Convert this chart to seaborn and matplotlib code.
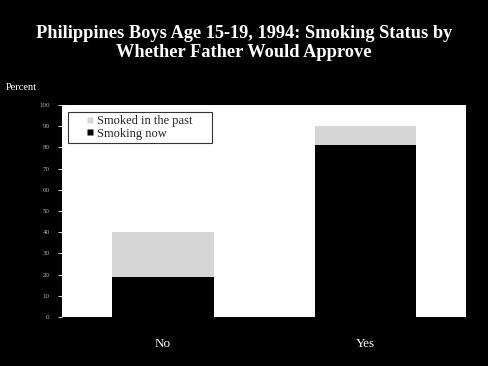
import matplotlib
matplotlib.use("Agg")
import matplotlib.pyplot as plt
import seaborn as sns
import pandas as pd
from matplotlib.lines import Line2D

categories = ["No", "Yes"]
smoking_now = [19, 81]
smoked_past = [21, 9]
yticks = list(range(0, 101, 10))

sns.set_style("white")
plt.rcParams['font.family'] = ['Liberation Serif', 'DejaVu Serif']

past_color = "#d6d6d6"
df = pd.DataFrame({"cat": categories,
                   "now": smoking_now,
                   "total": [a + b for a, b in zip(smoking_now, smoked_past)]})

fig = plt.figure(figsize=(4.88, 3.66), dpi=100, facecolor="black")
ax = fig.add_axes([0.127, 0.134, 0.828, 0.579])
ax.set_facecolor("white")

sns.barplot(data=df, x="cat", y="total", color=past_color, width=0.5,
            saturation=1, ax=ax, edgecolor="none")
sns.barplot(data=df, x="cat", y="now", color="black", width=0.5,
            saturation=1, ax=ax, edgecolor="none")

ax.set_xlim(-0.5, 1.5)
ax.set_ylim(0, 100)
ax.set_yticks(yticks)
ax.set_yticklabels([str(t) for t in yticks], fontsize=5, color="#b0b0b0")
ax.tick_params(axis="y", length=3, color="white", width=0.6, pad=6, left=True)
ax.tick_params(axis="x", length=0, colors="white", labelsize=9.5, pad=15)
ax.set_xlabel("")
ax.set_ylabel("")
for s in ax.spines.values():
    s.set_visible(False)

handles = [Line2D([], [], linestyle="none", marker="s", markersize=5,
                  markerfacecolor=past_color, markeredgecolor="none",
                  label="Smoked in the past"),
           Line2D([], [], linestyle="none", marker="s", markersize=5,
                  markerfacecolor="black", markeredgecolor="none",
                  label="Smoking now")]
leg = ax.legend(handles=handles, loc="upper left",
                bbox_to_anchor=(0.0149, 0.967, 0.356, 0), mode="expand",
                fontsize=9, frameon=True, fancybox=False, handlelength=3,
                handletextpad=-0.9, borderpad=0.25,
                labelspacing=0.05, borderaxespad=0)
leg.get_frame().set_edgecolor("black")
leg.get_frame().set_linewidth(0.8)

fig.text(0.5, 0.882, "Philippines Boys Age 15-19, 1994: Smoking Status by\nWhether Father Would Approve",
         ha="center", va="center", color="white", fontsize=13.2, fontweight="bold",
         linespacing=1.2)
fig.text(0.012, 0.76, "Percent", ha="left", va="center", color="white", fontsize=7.5)

fig.savefig("out.png", dpi=100, facecolor="black")
